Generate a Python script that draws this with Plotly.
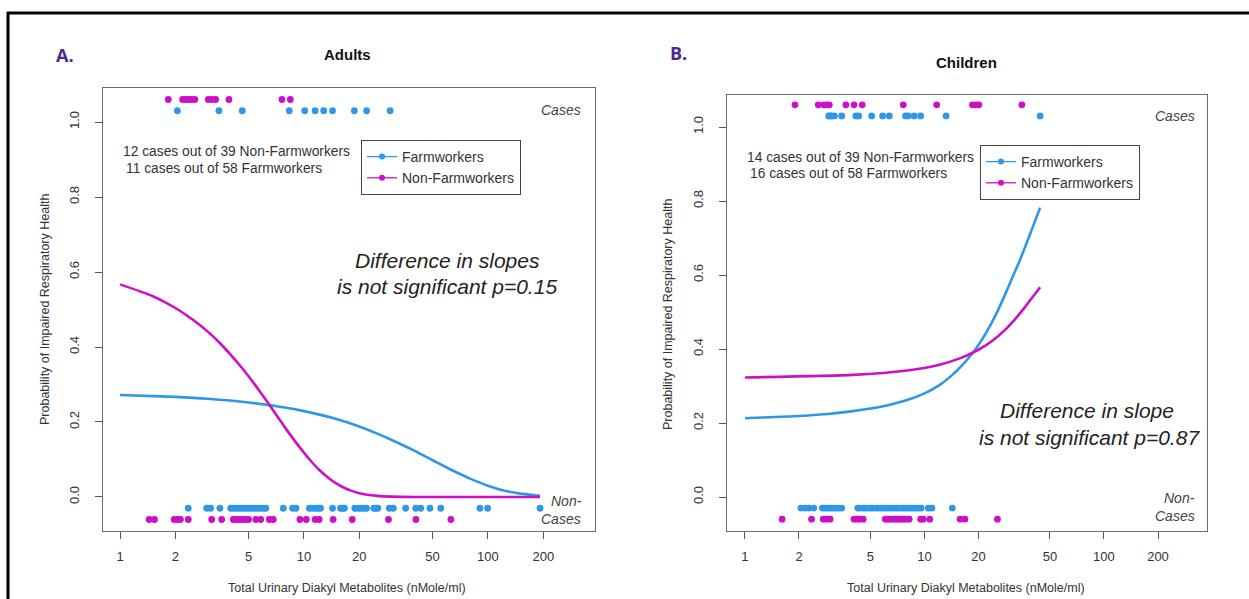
import plotly.graph_objects as go

W, H = 1249, 599

# ---- data -------------------------------------------------------------
tick_vals = [1, 2, 5, 10, 20, 50, 100, 200]
tick_text = ["1", "2", "5", "10", "20", "50", "100", "200"]
y_tick_vals = [0.0, 0.2, 0.4, 0.6, 0.8, 1.0]
y_tick_text = ["0.0", "0.2", "0.4", "0.6", "0.8", "1.0"]

# Adults: metabolite levels of individual subjects
adults_farm_cases = [2.05, 3.45, 4.62, 8.32, 10.1, 11.5, 12.8, 14.3, 18.8, 21.9, 29.4]
adults_nonfarm_cases = [1.83, 2.19, 2.28, 2.36, 2.45, 2.55, 3.02, 3.15, 3.31, 3.91, 7.59, 8.43]
adults_farm_noncases = [2.35, 2.96, 3.11, 3.49, 4.00, 4.15, 4.31, 4.47, 4.64, 4.82, 5.00, 5.20,
                        5.40, 5.60, 5.82, 6.04, 6.21, 7.72, 8.68, 9.05, 10.7, 11.1, 11.6, 12.0,
                        12.3, 14.3, 15.8, 16.2, 16.6, 18.9, 19.7, 20.4, 21.2, 21.9, 24.0, 24.6,
                        25.2, 29.1, 30.6, 35.7, 40.5, 43.1, 48.4, 55.4, 90.5, 99.6, 192]
adults_nonfarm_noncases = [1.44, 1.54, 1.97, 2.05, 2.13, 2.35, 3.15, 3.57, 4.13, 4.31, 4.47, 4.64,
                           4.82, 5.00, 5.48, 5.82, 6.48, 6.81, 9.51, 10.3, 11.5, 12.1, 14.4, 18.3,
                           28.8, 40.6, 62.9]

# Adults: fitted probability curves
adults_farm_curve_x = [1, 2, 3, 5, 8, 10, 15, 20, 25, 30, 40, 50, 60, 70, 80, 100, 120, 150, 192]
adults_farm_curve_p = [0.272, 0.267, 0.262, 0.252, 0.238, 0.229, 0.208, 0.188, 0.169, 0.152,
                       0.123, 0.098, 0.078, 0.062, 0.049, 0.030, 0.018, 0.009, 0.003]
adults_nonfarm_curve_x = [1, 1.5, 2, 2.5, 3, 3.5, 4, 4.5, 5, 5.5, 6, 6.5, 7, 8, 9, 10, 11, 12, 14,
                          16, 18, 20, 25, 30, 40, 60, 100, 192]
adults_nonfarm_curve_p = [0.567, 0.536, 0.504, 0.472, 0.441, 0.410, 0.379, 0.350, 0.322, 0.295,
                          0.269, 0.245, 0.222, 0.181, 0.147, 0.118, 0.094, 0.074, 0.046, 0.028,
                          0.017, 0.010, 0.003, 0.001, 0.0, 0.0, 0.0, 0.0]

# Children: metabolite levels of individual subjects
children_farm_cases = [2.93, 2.98, 3.04, 3.15, 3.46, 4.15, 4.30, 5.08, 5.85, 6.37, 7.85, 8.13,
                       8.77, 9.53, 13.2, 44.1]
children_nonfarm_cases = [1.90, 2.56, 2.75, 2.85, 2.95, 3.65, 4.05, 4.50, 7.62, 11.7, 18.5, 19.3,
                          20.1, 34.9]
children_farm_noncases = [2.05, 2.16, 2.27, 2.42, 2.70, 2.78, 2.86, 2.95, 3.04, 3.13, 3.23, 3.34,
                          3.46, 4.25, 4.38, 4.55, 4.66, 4.85, 5.01, 5.14, 5.35, 5.50, 5.70, 5.86,
                          6.08, 6.26, 6.50, 6.69, 6.93, 7.12, 7.40, 7.62, 7.90, 8.14, 8.42, 8.68,
                          8.98, 9.25, 9.58, 10.5, 11.0, 14.3]
children_nonfarm_noncases = [1.61, 2.35, 2.73, 2.85, 2.98, 4.05, 4.19, 4.34, 4.56, 6.05, 6.26,
                             6.49, 6.70, 6.93, 7.18, 7.43, 7.69, 7.96, 8.22, 9.53, 9.84, 10.7,
                             15.8, 16.8, 25.5]

# Children: fitted probability curves
children_farm_curve_x = [1, 2, 3, 4, 5, 6, 7, 8, 10, 12, 14, 16, 18, 20, 22, 25, 28, 31, 34, 37,
                         40, 44.1]
children_farm_curve_p = [0.213, 0.219, 0.225, 0.232, 0.239, 0.246, 0.254, 0.262, 0.280, 0.301,
                         0.326, 0.353, 0.381, 0.411, 0.443, 0.493, 0.545, 0.595, 0.640, 0.685,
                         0.728, 0.782]
children_nonfarm_curve_x = [1, 4, 8, 12, 16, 20, 24, 28, 32, 36, 40, 44.1]
children_nonfarm_curve_p = [0.323, 0.330, 0.342, 0.357, 0.376, 0.398, 0.423, 0.451, 0.481, 0.511,
                            0.540, 0.567]

# outcome rows used for plotting the individual subjects
ROW_FARM_CASE, ROW_NONFARM_CASE = 1.03, 1.06
ROW_FARM_NON, ROW_NONFARM_NON = -0.03, -0.06

# ---- styling ----------------------------------------------------------
BLUE = "#2f97e6"
MAGENTA = "#cc10c8"
FONT = "Liberation Sans"
TXT = "#333333"


def px(x):
    return x / W


def py(y):
    return 1 - y / H


fig = go.Figure()


def add_panel(xa, ya, farm_cases, nonfarm_cases, farm_non, nonfarm_non,
              fcx, fcp, ncx, ncp):
    common = dict(xaxis=xa, yaxis=ya, showlegend=False, hoverinfo="skip")
    fig.add_trace(go.Scatter(x=fcx, y=fcp, mode="lines", line=dict(color=BLUE, width=2.6,
                             shape="spline", smoothing=0.6), **common))
    fig.add_trace(go.Scatter(x=ncx, y=ncp, mode="lines", line=dict(color=MAGENTA, width=2.6,
                             shape="spline", smoothing=0.6), **common))
    for vals, row, col in [(farm_cases, ROW_FARM_CASE, BLUE),
                           (nonfarm_cases, ROW_NONFARM_CASE, MAGENTA),
                           (farm_non, ROW_FARM_NON, BLUE),
                           (nonfarm_non, ROW_NONFARM_NON, MAGENTA)]:
        fig.add_trace(go.Scatter(x=vals, y=[row] * len(vals), mode="markers",
                                 marker=dict(color=col, size=6.8, line=dict(width=0)),
                                 **common))


add_panel("x", "y", adults_farm_cases, adults_nonfarm_cases, adults_farm_noncases,
          adults_nonfarm_noncases, adults_farm_curve_x, adults_farm_curve_p,
          adults_nonfarm_curve_x, adults_nonfarm_curve_p)
add_panel("x2", "y2", children_farm_cases, children_nonfarm_cases, children_farm_noncases,
          children_nonfarm_noncases, children_farm_curve_x, children_farm_curve_p,
          children_nonfarm_curve_x, children_nonfarm_curve_p)

# legend entries (one legend per panel)
for leg in ["legend", "legend2"]:
    for name, col in [("Farmworkers", BLUE), ("Non-Farmworkers", MAGENTA)]:
        fig.add_trace(go.Scatter(x=[None], y=[None], mode="lines+markers", name=name,
                                 line=dict(color=col, width=1.3),
                                 marker=dict(color=col, size=6),
                                 legend=leg, xaxis="x", yaxis="y"))

axis_font = dict(family=FONT, size=13, color=TXT)


def xaxis(dom, rng, anchor):
    return dict(type="log", domain=dom, range=rng, anchor=anchor,
                tickvals=tick_vals, ticktext=tick_text, ticks="outside", ticklen=7,
                tickwidth=1, tickcolor="#555", showline=True, linecolor="#6b6b6b",
                linewidth=1.2, mirror=True, showgrid=False, zeroline=False,
                tickfont=axis_font, ticklabelstandoff=6)


def yaxis(dom, rng, anchor):
    return dict(domain=dom, range=rng, anchor=anchor,
                tickvals=y_tick_vals, ticktext=y_tick_text, ticks="outside", ticklen=7,
                tickwidth=1, tickcolor="#555", showline=True, linecolor="#6b6b6b",
                linewidth=1.2, mirror=True, showgrid=False, zeroline=False,
                tickangle=-90, tickfont=axis_font, ticklabelstandoff=11)


ann = []


def text(x, y, s, size=13, color=TXT, xanchor="center", italic=False, bold=False,
         angle=0, family=FONT):
    if bold:
        s = "<b>" + s + "</b>"
    if italic:
        s = "<i>" + s + "</i>"
    ann.append(dict(x=px(x), y=py(y), xref="paper", yref="paper", text=s, showarrow=False,
                    xanchor=xanchor, yanchor="middle", textangle=angle,
                    font=dict(family=family, size=size, color=color)))


# panel labels and titles
text(65, 55, "A.", size=18, color="#4b2a8c", bold=True, family="Open Sans")
text(678, 53, "B.", size=18, color="#4b2a8c", bold=True, family="Open Sans")
text(347, 55, "Adults", size=15, color="#111", bold=True)
text(966, 62, "Children", size=15, color="#111", bold=True)

# axis titles
for cx in (347, 966):
    text(cx, 588, "Total Urinary Diakyl Metabolites (nMole/ml)", size=12.5)
text(45, 310, "Probability of Impaired Respiratory Health", size=12.5, angle=-90)
text(668, 314, "Probability of Impaired Respiratory Health", size=12.5, angle=-90)

# counts
text(121, 151, "12 cases out of 39 Non-Farmworkers", size=13.8, xanchor="left")
text(124, 168, "11 cases out of 58 Farmworkers", size=13.8, xanchor="left")
text(745, 157, "14 cases out of 39 Non-Farmworkers", size=13.8, xanchor="left")
text(748, 174, "16 cases out of 58 Farmworkers", size=13.8, xanchor="left")

# slope comparisons
text(447, 260, "Difference in slopes", size=21, color="#222", italic=True)
text(447, 286, "is not significant p=0.15", size=21, color="#222", italic=True)
text(1087, 410, "Difference in slope", size=21, color="#222", italic=True)
text(1089, 437, "is not significant p=0.87", size=21, color="#222", italic=True)

# row labels
text(583, 110, "Cases", size=14, color="#444", italic=True, xanchor="right")
text(584, 501, "Non-", size=14, color="#444", italic=True, xanchor="right")
text(583, 519, "Cases", size=14, color="#444", italic=True, xanchor="right")
text(1197, 116, "Cases", size=14, color="#444", italic=True, xanchor="right")
text(1197, 498, "Non-", size=14, color="#444", italic=True, xanchor="right")
text(1197, 516, "Cases", size=14, color="#444", italic=True, xanchor="right")

legend_style = dict(bgcolor="white", bordercolor="#444", borderwidth=1,
                    font=dict(family=FONT, size=14, color=TXT), xanchor="left",
                    yanchor="top", tracegroupgap=0, itemwidth=30)

fig.update_layout(
    width=W, height=H, margin=dict(l=0, r=0, t=0, b=0),
    paper_bgcolor="white", plot_bgcolor="white",
    font=dict(family=FONT, color=TXT),
    xaxis=xaxis([px(103), px(595)], [-0.0924, 2.582], "y"),
    yaxis=yaxis([py(531), py(88)], [-0.0907, 1.0907], "x"),
    xaxis2=xaxis([px(727), px(1207)], [-0.100, 2.574], "y2"),
    yaxis2=yaxis([py(531), py(95)], [-0.0919, 1.0865], "x2"),
    legend=dict(x=px(361), y=py(140), **legend_style),
    legend2=dict(x=px(980), y=py(145), **legend_style),
    annotations=ann,
    shapes=[
        dict(type="line", xref="paper", yref="paper", x0=px(7), x1=1, y0=py(13), y1=py(13),
             line=dict(color="black", width=3)),
        dict(type="line", xref="paper", yref="paper", x0=px(8), x1=px(8), y0=py(12), y1=0,
             line=dict(color="black", width=3)),
    ],
)

fig.write_html("out.html")
